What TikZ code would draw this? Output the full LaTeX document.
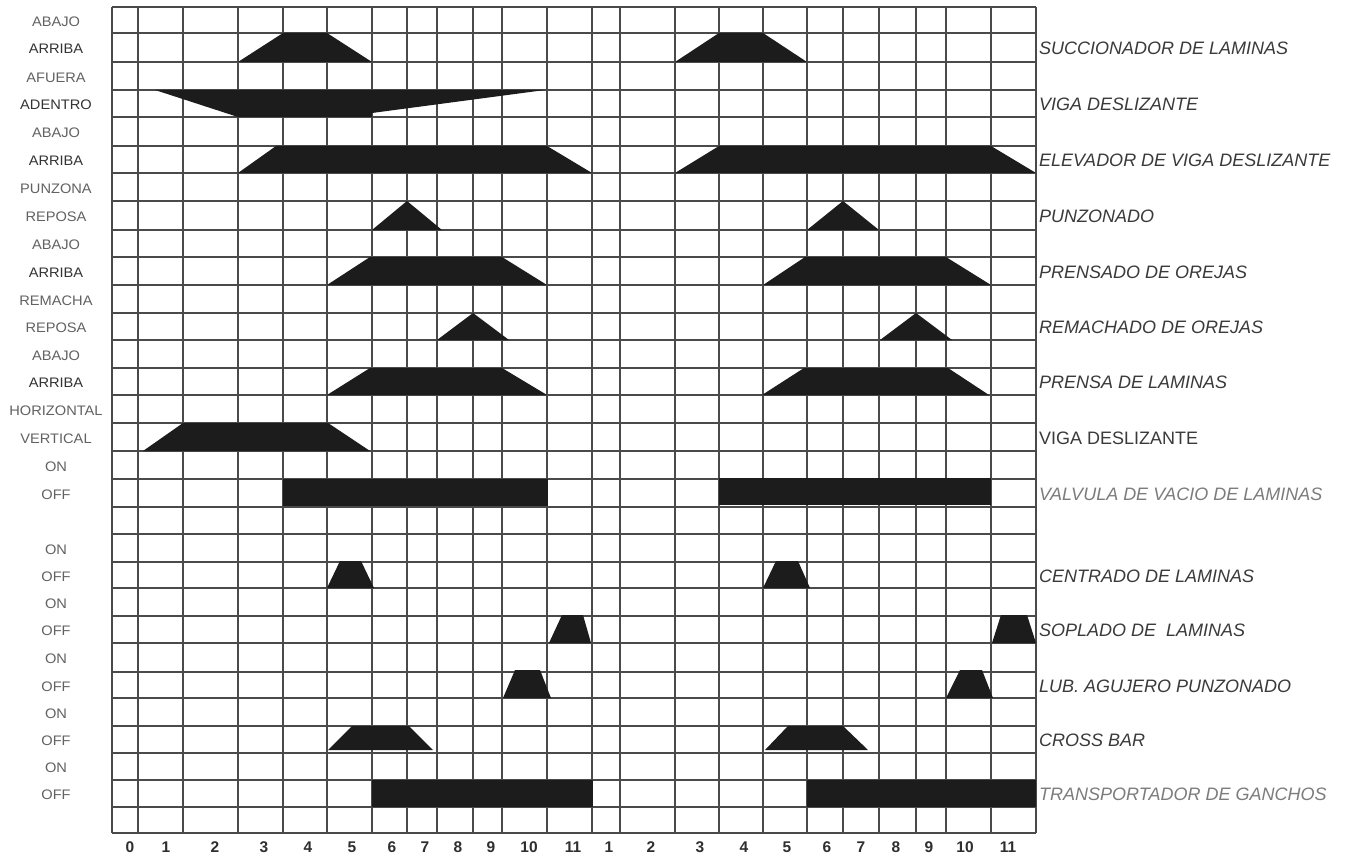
\documentclass[tikz,border=0pt]{standalone}
\usepackage{fontspec}
\setmainfont{Liberation Sans}
\newfontfamily\lfont[FakeStretch=1.06]{Liberation Sans}
\definecolor{gridc}{HTML}{4A4A4A}
\definecolor{ink}{HTML}{1C1C1C}
\definecolor{labdark}{HTML}{333333}
\definecolor{lablight}{HTML}{626262}
\definecolor{rlab}{HTML}{3A3A3A}
\definecolor{rlabg}{HTML}{7C7C7C}
\definecolor{numc}{HTML}{2E2E2E}
\tikzset{
  leftlab/.style={font=\lfont\fontsize{13.8}{14}\selectfont, inner sep=0pt, anchor=center},
  rightlab/.style={font=\fontsize{18}{19}\selectfont\itshape, text=rlab, anchor=west, inner sep=0pt},
  numlab/.style={font=\bfseries\fontsize{15.5}{16}\selectfont, text=numc, inner sep=0pt, anchor=center},
  gridline/.style={draw=gridc, line width=1.7pt},
  blk/.style={fill=ink, draw=none}
}
\begin{document}
\begin{tikzpicture}[x=1pt,y=-1pt]
\useasboundingbox (0,0) rectangle (1353,856);
\fill[white] (0,0) rectangle (1353,856);
% grid
\foreach \yy in {7,33,62,90,117,146,173,201,230,257,285,313,340,368,395,423,451,479,507,534,562,588,616,643,672,698,726,753,780,807,833}
  \draw[gridline] (112,\yy) -- (1036,\yy);
\foreach \xx in {112,138,183,238,283,327,372,407,437,473,502,547,592,620,675,719,763,807,843,879,916,946,991,1036}
  \draw[gridline] (\xx,7) -- (\xx,833);
% succionador
\fill[blk] (238,62) -- (283,33) -- (327,33) -- (372,62) -- cycle;
\fill[blk] (675,62) -- (719,33) -- (763,33) -- (807,62) -- cycle;
% viga deslizante (afuera/adentro)
\fill[blk] (155,90) -- (545,90) -- (372,113) -- (372,117) -- (238,117) -- cycle;
% elevador
\fill[blk] (238,173) -- (276,146) -- (547,146) -- (592,173) -- cycle;
\fill[blk] (675,173) -- (719,146) -- (991,146) -- (1036,173) -- cycle;
% punzonado
\fill[blk] (372,230) -- (407,201) -- (442,230) -- cycle;
\fill[blk] (807,230) -- (843,201) -- (879,230) -- cycle;
% prensado de orejas
\fill[blk] (327,285) -- (370,257) -- (502,257) -- (547,285) -- cycle;
\fill[blk] (763,285) -- (805,257) -- (946,257) -- (991,285) -- cycle;
% remachado
\fill[blk] (437,340) -- (473,313) -- (509,340) -- cycle;
\fill[blk] (880,340) -- (916,313) -- (952,340) -- cycle;
% prensa de laminas
\fill[blk] (327,395) -- (370,368) -- (502,368) -- (547,395) -- cycle;
\fill[blk] (762,395) -- (804,368) -- (948,368) -- (989,395) -- cycle;
% viga deslizante vertical
\fill[blk] (143,451) -- (183,423) -- (328,423) -- (370,451) -- cycle;
% valvula de vacio
\fill[blk] (283,479) rectangle (548,506);
\fill[blk] (719,478) rectangle (991,505);
% centrado
\fill[blk] (327,588) -- (340,561) -- (361,561) -- (374,588) -- cycle;
\fill[blk] (763,588) -- (776,561) -- (798,561) -- (810,588) -- cycle;
% soplado
\fill[blk] (549,643) -- (562,615) -- (583,615) -- (591,643) -- cycle;
\fill[blk] (992,643) -- (1001,615) -- (1027,615) -- (1036,643) -- cycle;
% lub
\fill[blk] (503,698) -- (515,670) -- (540,670) -- (551,698) -- cycle;
\fill[blk] (946,698) -- (960,670) -- (982,670) -- (993,698) -- cycle;
% cross bar
\fill[blk] (328,750) -- (352,726) -- (409,726) -- (433,750) -- cycle;
\fill[blk] (765,750) -- (788,726) -- (843,726) -- (868,750) -- cycle;
% transportador
\fill[blk] (372,780) rectangle (593,807);
\fill[blk] (807,780) rectangle (1036,807);
% left labels
\foreach \yy/\tt/\cc/\nn in {21.5/ABAJO/lablight/l0, 49/ARRIBA/labdark/l1, 77.5/AFUERA/lablight/l2, 105/ADENTRO/labdark/l3, 133/ABAJO/lablight/l4, 161/ARRIBA/labdark/l5, 188.5/PUNZONA/lablight/l6, 217/REPOSA/lablight/l7, 245/ABAJO/lablight/l8, 272.5/ARRIBA/labdark/l9, 300.5/REMACHA/lablight/l10, 328/REPOSA/lablight/l11, 355.5/ABAJO/lablight/l12, 383/ARRIBA/labdark/l13, 410.5/HORIZONTAL/lablight/l14, 438.5/VERTICAL/lablight/l15, 466.5/ON/lablight/l16, 494.5/OFF/lablight/l17, 549.5/ON/lablight/l19, 576.5/OFF/lablight/l20, 603.5/ON/lablight/l21, 631/OFF/lablight/l22, 659/ON/lablight/l23, 686.5/OFF/lablight/l24, 713.5/ON/lablight/l25, 741/OFF/lablight/l26, 768/ON/lablight/l27, 795/OFF/lablight/l28}
  \node[leftlab, text=\cc] (\nn) at (56,\yy) {\tt};
% right labels
\node[rightlab] (r1) at (1039,48.5) {SUCCIONADOR DE LAMINAS};
\node[rightlab] (r3) at (1039,104.5) {VIGA DESLIZANTE};
\node[rightlab] (r5) at (1039,160.5) {ELEVADOR DE VIGA DESLIZANTE};
\node[rightlab] (r7) at (1039,216.5) {PUNZONADO};
\node[rightlab] (r9) at (1039,272) {PRENSADO DE OREJAS};
\node[rightlab] (r11) at (1039,327.5) {REMACHADO DE OREJAS};
\node[rightlab] (r13) at (1039,382.5) {PRENSA DE LAMINAS};
\node[rightlab, font=\fontsize{18}{19}\selectfont\upshape] (r15) at (1039,438) {VIGA DESLIZANTE};
\node[rightlab, text=rlabg] (r17) at (1039,494) {VALVULA DE VACIO DE LAMINAS};
\node[rightlab] (r20) at (1039,576) {CENTRADO DE LAMINAS};
\node[rightlab] (r22) at (1039,630.5) {SOPLADO DE\ \ LAMINAS};
\node[rightlab] (r24) at (1039,686) {LUB. AGUJERO PUNZONADO};
\node[rightlab] (r26) at (1039,740.5) {CROSS BAR};
\node[rightlab, text=rlabg] (r28) at (1039,794.5) {TRANSPORTADOR DE GANCHOS};
% bottom numbers
\foreach \xx/\tt/\nn in {130/0/n0, 166/1/n1, 215/2/n2, 264/3/n3, 308/4/n4, 352/5/n5, 392/6/n6, 425/7/n7, 458/8/n8, 491/9/n9, 529/10/n10, 573/11/n11, 609/1/n12, 651/2/n13, 700/3/n14, 744/4/n15, 787/5/n16, 827/6/n17, 861/7/n18, 896/8/n19, 929/9/n20, 965/10/n21, 1008/11/n22}
  \node[numlab] (\nn) at (\xx,847) {\tt};
\end{tikzpicture}
\end{document}
